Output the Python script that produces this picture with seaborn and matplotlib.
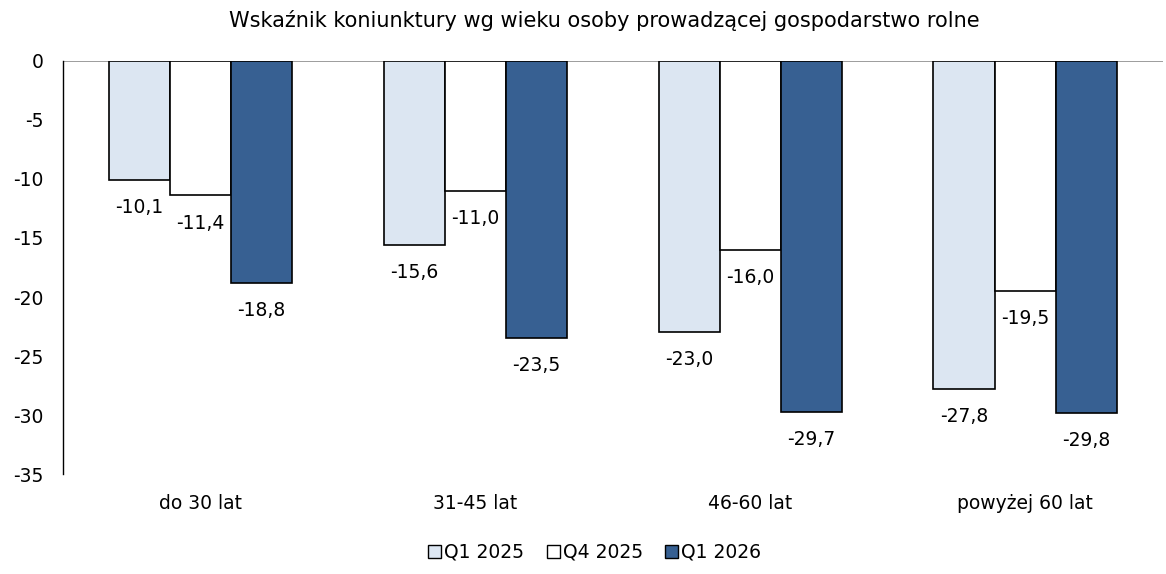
import numpy as np
import pandas as pd
import matplotlib
matplotlib.use("Agg")
import matplotlib.pyplot as plt
import seaborn as sns
from matplotlib.patches import Patch
from matplotlib.ticker import FuncFormatter

# ---------------------------------------------------------------------------
# Data
# ---------------------------------------------------------------------------

categories = ["do 30 lat", "31-45 lat", "46-60 lat", "powyżej 60 lat"]
series = ["Q1 2025", "Q4 2025", "Q1 2026"]
q1_2025 = [-10.1, -15.6, -23.0, -27.8]
q4_2025 = [-11.4, -11.0, -16.0, -19.5]
q1_2026 = [-18.8, -23.5, -29.7, -29.8]
colors = ["#dce6f2", "#ffffff", "#376092"]

df = pd.DataFrame({
    "kategoria": categories * 3,
    "seria": np.repeat(series, len(categories)),
    "wartosc": q1_2025 + q4_2025 + q1_2026,
})

# ---------------------------------------------------------------------------
# Plot
# ---------------------------------------------------------------------------

FS = 13.5

sns.set_style("white")
plt.rcParams["font.family"] = ["DejaVu Sans"]
plt.rcParams["font.size"] = FS
plt.rcParams["text.color"] = "black"
plt.rcParams["axes.unicode_minus"] = False

fig = plt.figure(figsize=(11.66, 5.74), dpi=100)
ax = fig.add_axes([0.054, 0.174, 0.943, 0.72])

sns.barplot(
    data=df, x="kategoria", y="wartosc", hue="seria",
    order=categories, hue_order=series, palette=colors, saturation=1,
    width=0.667, gap=0, edgecolor="black", linewidth=1.2,
    legend=False, ax=ax,
)

for container in ax.containers:
    ax.bar_label(
        container,
        labels=[f"{v:.1f}".replace(".", ",") for v in container.datavalues],
        padding=13, fontsize=FS, color="black",
    )

ax.axhline(0, color="#8c8c8c", linewidth=1.2, zorder=0)
ax.set_ylim(-35, 0)
ax.set_yticks(np.arange(-35, 1, 5))
ax.yaxis.set_major_formatter(FuncFormatter(lambda v, _: f"{v:.0f}"))
ax.set_xlim(-0.5, len(categories) - 0.5)
ax.set_xlabel("")
ax.set_ylabel("")
for side in ["top", "right", "bottom"]:
    ax.spines[side].set_visible(False)
ax.spines["left"].set_color("black")
ax.spines["left"].set_linewidth(1.0)
ax.tick_params(axis="both", length=0, labelsize=FS, labelcolor="black")
ax.tick_params(axis="y", pad=14)
ax.tick_params(axis="x", pad=14)

fig.suptitle(
    "Wskaźnik koniunktury wg wieku osoby prowadzącej gospodarstwo rolne",
    x=0.518, y=0.982, fontsize=15, color="black",
)

handles = [Patch(facecolor=c, edgecolor="black", linewidth=1.0) for c in colors]
fig.legend(
    handles, series, loc="center", bbox_to_anchor=(0.51, 0.038), ncol=3,
    frameon=False, handlelength=0.7, handleheight=0.7, handletextpad=0.15,
    columnspacing=1.2, fontsize=FS,
)

fig.savefig("out.png", dpi=100)
plt.close(fig)
